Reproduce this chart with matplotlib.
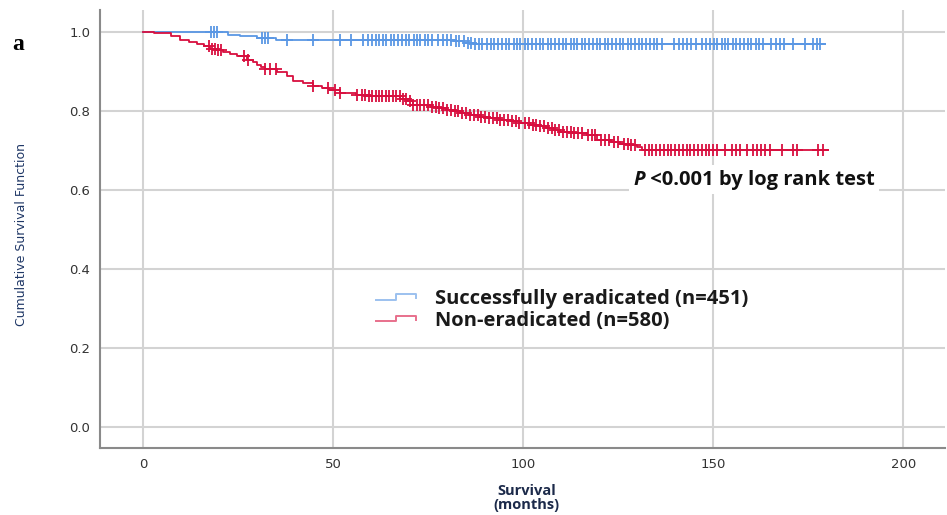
import numpy as np
import matplotlib
matplotlib.use("Agg")
import matplotlib.pyplot as plt
from matplotlib.legend_handler import HandlerBase
from matplotlib.lines import Line2D

# ---- data (months, cumulative survival) ----
# successfully eradicated (n=451): step times and survival after each step
erad_t = [0, 22.4, 25.5, 30.0, 35.0, 82.0, 84.5, 87.0]
erad_s = [1.0, 0.993, 0.989, 0.985, 0.980, 0.976, 0.972, 0.969]
erad_end = 179.5
erad_cens = [17.8, 18.6, 19.5, 31.3, 32.1, 32.9, 37.8, 44.8, 51.8, 54.7,
             58.0, 59.1, 60.3, 61.2, 62.0, 63.1, 64.0, 65.2, 66.1, 67.0,
             68.2, 69.1, 70.0, 71.2, 72.1, 73.0, 74.2, 75.1, 76.0, 77.5,
             79.0, 80.1, 81.0, 82.3, 83.2, 84.4, 85.5, 86.3, 87.4, 88.5,
             89.3, 90.4, 91.5, 92.3, 93.4, 94.5, 95.4, 96.3, 97.5, 98.4,
             99.3, 100.5, 101.4, 102.3, 103.5, 104.4, 105.3, 106.5, 107.4,
             108.3, 109.5, 110.4, 111.3, 112.5, 113.4, 114.3, 115.5, 116.4,
             117.3, 118.5, 119.4, 120.3, 121.5, 122.4, 123.3, 124.5, 125.4,
             126.3, 127.5, 128.4, 129.3, 130.5, 131.4, 132.3, 133.5, 134.4,
             135.3, 136.5, 139.8, 140.9, 142.0, 143.1, 144.2, 145.4, 147.1,
             148.0, 149.2, 150.1, 151.0, 152.2, 153.1, 154.0, 155.2, 156.1,
             157.0, 158.2, 159.1, 160.0, 161.2, 162.1, 163.0, 165.2, 166.4,
             167.6, 168.5, 171.0, 174.1, 176.3, 177.4, 178.2]

# non-eradicated (n=580)
non_t = [0, 3, 5.3, 7.5, 9.7, 12, 14.2, 16, 17.6, 19.5, 21, 23, 24.7, 27.3,
         29, 30, 31, 32, 35.2, 37.8, 39.5, 42, 44.8, 47, 49, 51.8, 56, 59,
         67.6, 69.5, 71, 74, 76, 78, 80, 82, 83.4, 86, 88.7, 91, 94, 97, 99,
         101.8, 104, 106, 108, 109.7, 113, 116.8, 119.5, 123, 125.5, 128,
         130, 131.3]
non_s = [1.0, 0.998, 0.997, 0.99, 0.98, 0.975, 0.970, 0.964, 0.958, 0.953,
         0.949, 0.943, 0.938, 0.930, 0.924, 0.917, 0.911, 0.905, 0.899,
         0.888, 0.877, 0.871, 0.864, 0.859, 0.854, 0.846, 0.841, 0.837,
         0.831, 0.826, 0.816, 0.814, 0.811, 0.808, 0.803, 0.799, 0.795,
         0.790, 0.784, 0.781, 0.778, 0.774, 0.770, 0.765, 0.761, 0.757,
         0.753, 0.748, 0.744, 0.740, 0.727, 0.722, 0.716, 0.713, 0.710, 0.700]
non_end = 180.3
non_cens = [17.3, 18.2, 19.0, 19.8, 20.6, 26.5, 27.5, 32.2, 33.5, 35.0,
            44.8, 48.7, 50.5, 51.8, 56.2, 57.6, 58.5, 59.4, 60.3, 61.2,
            62.1, 63.0, 63.9, 64.8, 65.7, 66.6, 67.5, 68.4, 69.3, 70.2,
            71.1, 72.0, 73.0, 74.0, 75.0, 76.0, 77.0, 78.0, 79.0, 80.0,
            81.0, 82.0, 83.0, 84.0, 85.0, 86.0, 87.0, 88.0, 89.0, 90.0,
            91.0, 92.0, 93.0, 94.0, 95.0, 96.0, 97.0, 98.0, 99.0, 100.5,
            101.5, 102.5, 103.5, 104.5, 105.5, 106.5, 107.5, 108.5, 109.5,
            110.5, 111.5, 112.5, 113.5, 114.5, 115.5, 117.0, 118.0, 119.0,
            120.5, 121.5, 122.5, 124.0, 125.0, 126.5, 127.5, 128.5, 129.5,
            132.0, 133.0, 134.0, 135.0, 136.0, 137.0, 138.0, 139.0, 140.0,
            141.0, 142.0, 143.0, 144.0, 145.0, 146.0, 147.0, 148.0, 149.0,
            150.0, 151.0, 153.0, 155.0, 156.0, 157.0, 159.0, 160.5, 161.5,
            162.5, 163.5, 165.0, 168.0, 171.0, 172.0, 177.6, 179.0]

labels = ["Successfully eradicated (n=451)", "Non-eradicated (n=580)"]
colors = ["#5a97e4", "#d80f3f"]
x_ticks = [0, 50, 100, 150, 200]
y_ticks = [0.0, 0.2, 0.4, 0.6, 0.8, 1.0]


class StepHandler(HandlerBase):
    """little step-shaped legend key like SPSS draws"""
    def create_artists(self, legend, orig_handle, xdescent, ydescent,
                       width, height, fontsize, trans):
        xs = np.array([0.0, 0.5, 0.5, 1.0, 1.0]) * width - xdescent
        ys = np.array([0.3, 0.3, 0.7, 0.7, 0.4]) * height - ydescent
        ln = Line2D(xs, ys, color=orig_handle.get_color(), lw=1.4, alpha=0.6)
        ln.set_transform(trans)
        return [ln]


def surv_at(t, times, surv):
    idx = np.searchsorted(times, t, side="right") - 1
    return np.asarray(surv)[idx]


fig = plt.figure(figsize=(9.47, 5.15), dpi=100)
ax = fig.add_axes([0.1056, 0.130, 0.8924, 0.851])

handles = []
for times, surv, end, cens, col, lab in [
        (erad_t, erad_s, erad_end, erad_cens, colors[0], labels[0]),
        (non_t, non_s, non_end, non_cens, colors[1], labels[1])]:
    xs = list(times) + [end]
    ys = list(surv) + [surv[-1]]
    h, = ax.step(xs, ys, where="post", color=col, lw=1.3, label=lab, zorder=3)
    ax.plot(cens, surv_at(cens, times, surv), ls="none", marker="+",
            ms=8, mew=1.3, color=col, zorder=3)
    handles.append(h)

ax.set_xlim(-11.3, 211)
ax.set_ylim(-0.053, 1.056)
ax.set_xticks(x_ticks)
ax.set_yticks(y_ticks)
ax.set_yticklabels([f"{v:.1f}" for v in y_ticks])
ax.grid(True, color="#d3d3d3", lw=1.5, zorder=0)
ax.set_axisbelow(True)
ax.tick_params(length=0, labelsize=9.5, labelcolor="#333333", pad=7)
for s in ["top", "right"]:
    ax.spines[s].set_visible(False)
for s in ["left", "bottom"]:
    ax.spines[s].set_color("#8a8a8a")
    ax.spines[s].set_linewidth(1.5)

leg = fig.legend(handles, labels, loc="upper left",
                 bbox_to_anchor=(0.380, 0.470), frameon=False,
                 handler_map={Line2D: StepHandler()},
                 handlelength=2.0, handletextpad=0.95, labelspacing=0.08,
                 borderpad=0.3,
                 prop={"family": "Open Sans", "weight": "bold", "size": 14.5})
for t in leg.get_texts():
    t.set_color("#1a1a1a")

p = ax.text(129, 0.626, "P", fontfamily="Open Sans", fontweight="bold",
            fontstyle="italic", fontsize=14.5, va="center", color="#111111",
            zorder=6, bbox=dict(facecolor="white", edgecolor="none", pad=3))
ax.annotate(" <0.001 by log rank test", xy=(1, 0.5), xycoords=p,
            va="center", ha="left", fontfamily="Open Sans", fontweight="bold",
            fontsize=14.5, color="#111111", zorder=5,
            bbox=dict(facecolor="white", edgecolor="none", pad=3))

fig.text(0.023, 0.545, "Cumulative Survival Function", rotation=90,
         ha="center", va="center", fontsize=9,
         fontfamily=["Liberation Sans Narrow", "DejaVu Sans"],
         color="#1f3766")
fig.text(0.556, 0.033, "Survival\n(months)", ha="center", va="center",
         fontsize=10.5, fontweight="bold", fontfamily="Open Sans",
         color="#1c2a4a", linespacing=1.0)
fig.text(0.019, 0.913, "a", ha="center", va="center", fontsize=17,
         fontweight="bold", fontfamily=["Liberation Serif", "DejaVu Serif"])

fig.savefig("out.png", dpi=100)
